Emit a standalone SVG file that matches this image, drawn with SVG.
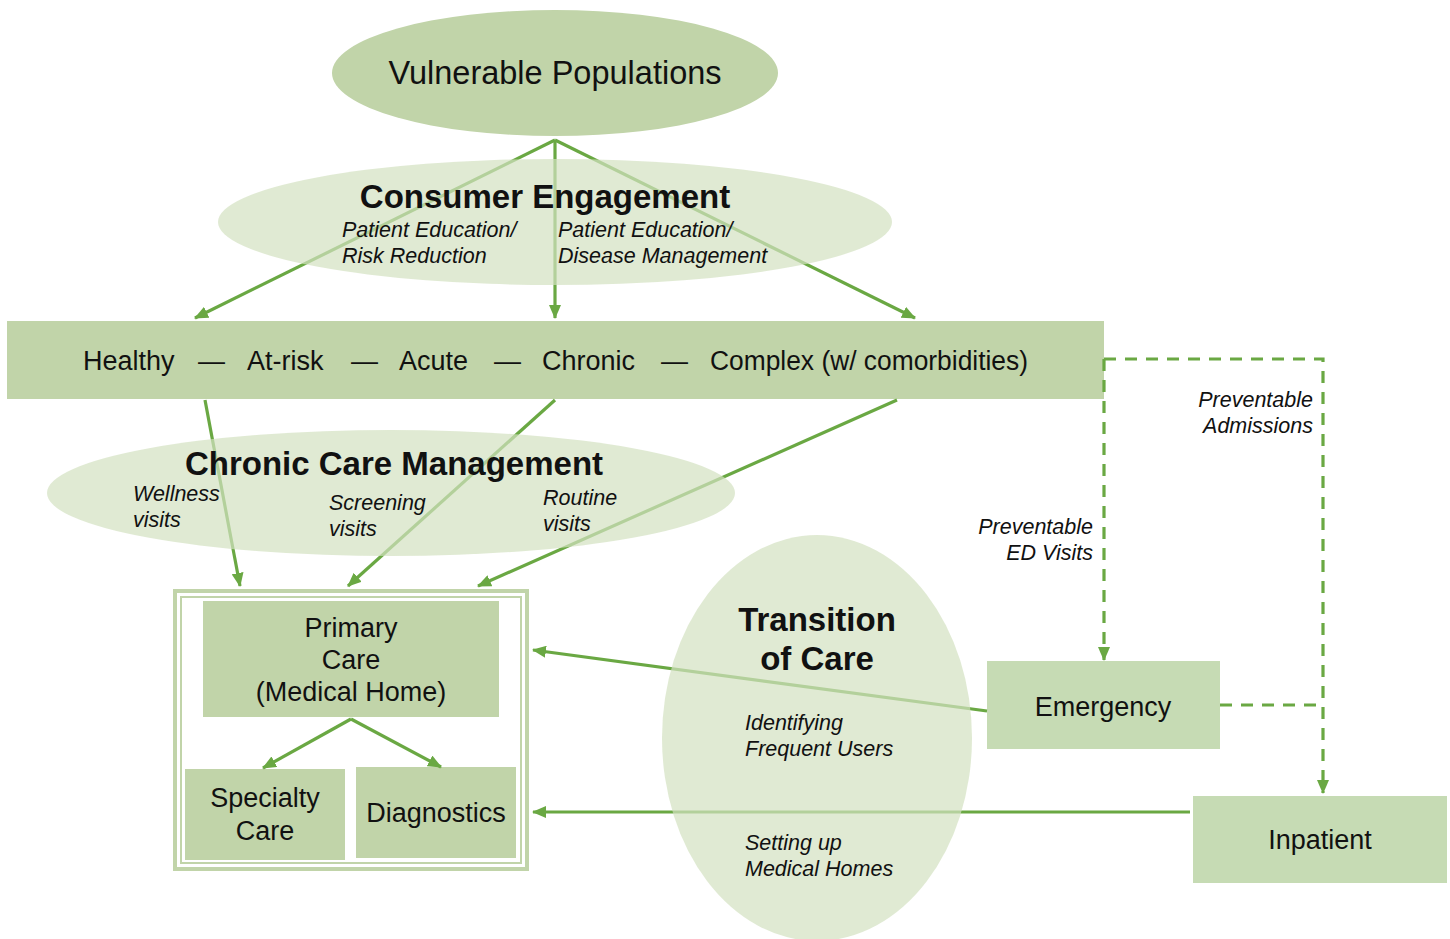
<svg xmlns="http://www.w3.org/2000/svg" width="1450" height="939" viewBox="0 0 1450 939">
<defs>
<marker id="ah" viewBox="0 0 14 12" refX="13" refY="6" markerWidth="14" markerHeight="12" markerUnits="userSpaceOnUse" orient="auto">
<path d="M0,0 L14,6 L0,12 Z" fill="#6aa843"/>
</marker>
</defs>
<style>
.box{fill:#c1d4a9}
.box2{fill:#c6dbb4}
.oval{fill:#c1d4a9}
.soft{fill:#d3e1c1;fill-opacity:0.7}
.t{font-family:"Liberation Sans",Arial,sans-serif;fill:#111}
.n{font-size:27px}
.b{font-size:33px;font-weight:bold}
.i{font-size:21.5px;font-style:italic}
.c{text-anchor:middle}
.r{text-anchor:end}
.ln{stroke:#6aa843;stroke-width:3.2;fill:none}
.dash{stroke:#6aa843;stroke-width:3.2;fill:none;stroke-dasharray:12,9}
</style>

<g id="vulnerable">
<ellipse class="oval" cx="555" cy="73" rx="223" ry="63"/>
<text class="t c" x="555" y="84" font-size="32.5">Vulnerable Populations</text>
</g>

<g id="spectrum">
<rect class="box" x="7" y="321" width="1097" height="78"/>
<text class="t n" x="83" y="370">Healthy</text>
<text class="t n" x="198" y="370">—</text>
<text class="t n" x="247" y="370">At-risk</text>
<text class="t n" x="351" y="370">—</text>
<text class="t n" x="399" y="370">Acute</text>
<text class="t n" x="494" y="370">—</text>
<text class="t n" x="542" y="370">Chronic</text>
<text class="t n" x="661" y="370">—</text>
<text class="t n" x="710" y="370" textLength="318" lengthAdjust="spacingAndGlyphs">Complex (w/ comorbidities)</text>
</g>

<g id="frame">
<rect x="175" y="591" width="352" height="278" fill="#fff" stroke="#c1d4a9" stroke-width="4"/>
<rect x="181" y="597" width="340" height="266" fill="none" stroke="#c1d4a9" stroke-width="2"/>
</g>

<g id="primary">
<rect class="box" x="203" y="601" width="296" height="116"/>
<text class="t n c" x="351" y="637">Primary</text>
<text class="t n c" x="351" y="669">Care</text>
<text class="t n c" x="351" y="701">(Medical Home)</text>
</g>

<g id="specialty">
<rect class="box" x="185" y="769" width="160" height="91"/>
<text class="t n c" x="265" y="807">Specialty</text>
<text class="t n c" x="265" y="840">Care</text>
</g>

<g id="diagnostics">
<rect class="box" x="356" y="767" width="160" height="91"/>
<text class="t n c" x="436" y="822">Diagnostics</text>
</g>

<g id="emergency">
<rect class="box2" x="987" y="661" width="233" height="88"/>
<text class="t n c" x="1103" y="716">Emergency</text>
</g>

<g id="inpatient">
<rect class="box2" x="1193" y="796" width="254" height="87"/>
<text class="t n c" x="1320" y="849">Inpatient</text>
</g>

<g id="connectors">
<path class="ln" d="M555,140 L195,318" marker-end="url(#ah)"/>
<path class="ln" d="M555,140 L555,318" marker-end="url(#ah)"/>
<path class="ln" d="M555,140 L915,318" marker-end="url(#ah)"/>
<path class="ln" d="M205,400 L240,586" marker-end="url(#ah)"/>
<path class="ln" d="M555,400 L348,586" marker-end="url(#ah)"/>
<path class="ln" d="M897,400 L478,586" marker-end="url(#ah)"/>
<path class="ln" d="M351,719 L263,768" marker-end="url(#ah)"/>
<path class="ln" d="M351,719 L441,767" marker-end="url(#ah)"/>
<path class="ln" d="M987,711 L533,650" marker-end="url(#ah)"/>
<path class="ln" d="M1190,812 L533,812" marker-end="url(#ah)"/>
<path class="dash" d="M1104,359 L1323,359 L1323,793" marker-end="url(#ah)"/>
<path class="dash" d="M1104,359 L1104,660" marker-end="url(#ah)"/>
<path class="dash" d="M1220,705 L1323,705"/>
</g>

<g id="consumer">
<ellipse class="soft" cx="555" cy="222" rx="337" ry="63"/>
<text class="t b c" x="545" y="208">Consumer Engagement</text>
<text class="t i" x="342" y="237">Patient Education/</text>
<text class="t i" x="342" y="263">Risk Reduction</text>
<text class="t i" x="558" y="237">Patient Education/</text>
<text class="t i" x="558" y="263">Disease Management</text>
</g>

<g id="chronic">
<ellipse class="soft" cx="391" cy="493" rx="344" ry="63"/>
<text class="t b c" x="394" y="475">Chronic Care Management</text>
<text class="t i" x="133" y="501">Wellness</text>
<text class="t i" x="133" y="527">visits</text>
<text class="t i" x="329" y="510">Screening</text>
<text class="t i" x="329" y="536">visits</text>
<text class="t i" x="543" y="505">Routine</text>
<text class="t i" x="543" y="531">visits</text>
</g>

<g id="transition">
<ellipse class="soft" cx="817" cy="738" rx="155" ry="203"/>
<text class="t b c" x="817" y="631">Transition</text>
<text class="t b c" x="817" y="670">of Care</text>
<text class="t i" x="745" y="730">Identifying</text>
<text class="t i" x="745" y="756">Frequent Users</text>
<text class="t i" x="745" y="850">Setting up</text>
<text class="t i" x="745" y="876">Medical Homes</text>
</g>

<g id="labels">
<text class="t i r" x="1313" y="407">Preventable</text>
<text class="t i r" x="1313" y="433">Admissions</text>
<text class="t i r" x="1093" y="534">Preventable</text>
<text class="t i r" x="1093" y="560">ED Visits</text>
</g>
</svg>
